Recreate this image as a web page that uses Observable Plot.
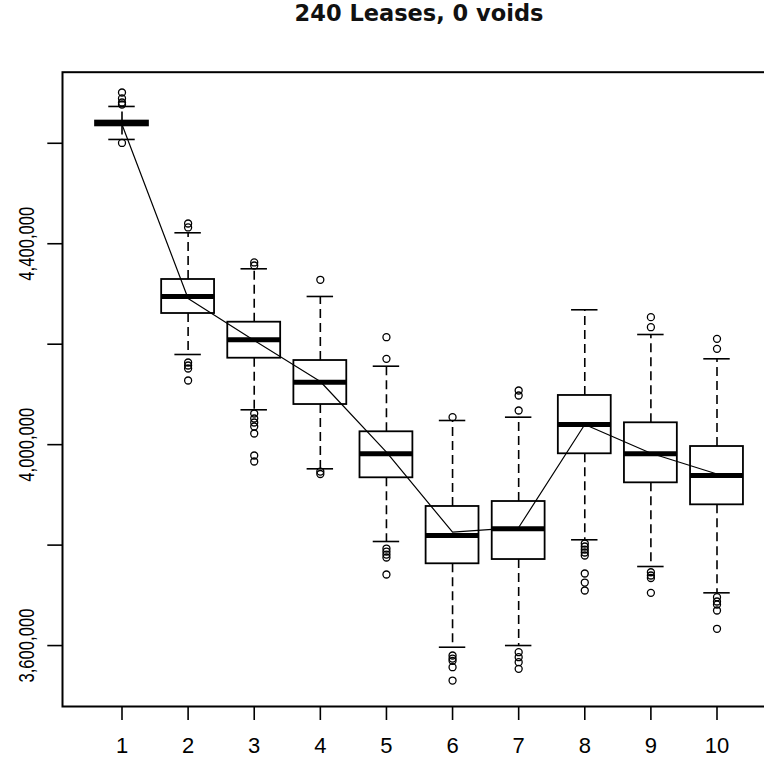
<!DOCTYPE html>
<html>
<head>
<meta charset="utf-8">
<script src="https://cdn.jsdelivr.net/npm/d3@7"></script>
<script src="https://cdn.jsdelivr.net/npm/@observablehq/plot@0.6"></script>
<style>
html, body { margin: 0; padding: 0; background: #fff; overflow: hidden; width: 764px; height: 758px; }
#title { margin: 0 0 0 62px; width: 714px; height: 42px; line-height: 42px; text-align: center;
  font: bold 22.5px "DejaVu Sans", sans-serif; color: #111; white-space: nowrap; }
#chart svg { display: block; }
</style>
</head>
<body>
<div id="title">240 Leases, 0 voids</div>
<div id="chart"></div>
<script>
// ---- data ----
const groups = [1, 2, 3, 4, 5, 6, 7, 8, 9, 10];
const whiskerLow  = [4607600, 4179500, 4069400, 3951900, 3807200, 3596700, 3600100, 3810600, 3757400, 3705000];
const q1          = [4634600, 4261100, 4172100, 4079900, 3934000, 3762800, 3771300, 3981800, 3924000, 3880200];
const medians     = [4639400, 4295000, 4208800, 4124300, 3981800, 3819100, 3832500, 4040100, 3981800, 3938600];
const q3          = [4644200, 4328800, 4243800, 4167500, 4025600, 3876900, 3886800, 4097900, 4043500, 3996300];
const whiskerHigh = [4673300, 4421800, 4350100, 4295000, 4156200, 4048100, 4054700, 4268500, 4219300, 4170900];
const means       = [4637400, 4291000, 4207400, 4125700, 3985000, 3825700, 3835000, 4040100, 3982800, 3941600];
const outliers = [
  [4701100, 4689200, 4681200, 4677200, 4600600],
  [4440300, 4432400, 4163600, 4157600, 4151600, 4127700],
  [4362700, 4356700, 4062000, 4052100, 4044100, 4036100, 4022200, 3978400, 3966500],
  [4328200, 3946500, 3941600],
  [4213900, 4170900, 3793200, 3787200, 3781200, 3775300, 3741500],
  [4054700, 3580200, 3574200, 3569600, 3556900, 3530400],
  [4107800, 4097900, 4068000, 3586800, 3576800, 3566900, 3553700],
  [3803200, 3797200, 3791200, 3785300, 3779300, 3743500, 3725500, 3709600],
  [4253800, 4233800, 3746000, 3739500, 3734500, 3705000],
  [4210700, 4190800, 3696300, 3687700, 3681700, 3669800, 3633400]
];
const yTicks = [3600000, 3800000, 4000000, 4200000, 4400000, 4600000];
const yLabelTicks = [3600000, 4000000, 4400000];
const yDomain = [3478700, 4741500];
const xDomain = [0.1, 10.9];

// ---- tables built from the arrays ----
const boxWidth = 0.8, stapleWidth = 0.4;
const boxes = groups.map((g, i) => ({
  g, lo: whiskerLow[i], q1: q1[i], med: medians[i], q3: q3[i], hi: whiskerHigh[i], mean: means[i]
}));
const outlierPoints = outliers.flatMap((arr, i) => arr.map(v => ({g: groups[i], v})));

const font = '"Liberation Sans Narrow", "Arial Narrow", "Liberation Sans", Arial, sans-serif';

const chart = Plot.plot({
  width: 764,
  height: 716,
  marginTop: 29.7,
  marginBottom: 52,
  marginLeft: 62,
  marginRight: -12,
  style: {fontFamily: font, fontSize: "22px", color: "#000", background: "#fff"},
  x: {type: "linear", domain: xDomain, label: null},
  y: {type: "linear", domain: yDomain, label: null},
  marks: [
    Plot.frame({stroke: "#000", strokeWidth: 2}),
    Plot.axisX({ticks: groups, label: null, tickSize: 14, tickPadding: 17, tickFormat: d => String(d),
      fontSize: 22, stroke: "#000", strokeWidth: 1.6, fill: "#000"}),
    Plot.axisY({ticks: yTicks, label: null, tickSize: 14.7, tickFormat: () => "", stroke: "#000", strokeWidth: 1.6}),
    Plot.text(yLabelTicks, {y: d => d, frameAnchor: "left", dx: -29, rotate: -90,
      text: d => d3.format(",")(d), textAnchor: "middle", lineAnchor: "bottom", fontSize: 22, fill: "#000"}),
    // whiskers
    Plot.ruleX(boxes, {x: "g", y1: "q3", y2: "hi", stroke: "#000", strokeWidth: 1.6, strokeDasharray: "9,5"}),
    Plot.ruleX(boxes, {x: "g", y1: "q1", y2: "lo", stroke: "#000", strokeWidth: 1.6, strokeDasharray: "9,5"}),
    // staples
    Plot.ruleY(boxes, {y: "hi", x1: d => d.g - stapleWidth / 2, x2: d => d.g + stapleWidth / 2, stroke: "#000", strokeWidth: 1.6}),
    Plot.ruleY(boxes, {y: "lo", x1: d => d.g - stapleWidth / 2, x2: d => d.g + stapleWidth / 2, stroke: "#000", strokeWidth: 1.6}),
    // boxes
    Plot.rect(boxes, {x1: d => d.g - boxWidth / 2, x2: d => d.g + boxWidth / 2, y1: "q1", y2: "q3",
      fill: "none", stroke: "#000", strokeWidth: 1.8}),
    // medians
    Plot.ruleY(boxes, {y: "med", x1: d => d.g - boxWidth / 2, x2: d => d.g + boxWidth / 2, stroke: "#000", strokeWidth: 5}),
    // outliers
    Plot.dot(outlierPoints, {x: "g", y: "v", r: 3.5, fill: "none", stroke: "#000", strokeWidth: 1.3}),
    // mean line
    Plot.line(boxes, {x: "g", y: "mean", stroke: "#000", strokeWidth: 1.2})
  ]
});
document.getElementById("chart").appendChild(chart);
// condensed y tick labels as in the reference
d3.select(chart).selectAll('g[aria-label="text"] text')
  .attr("textLength", 74).attr("lengthAdjust", "spacingAndGlyphs");
</script>
</body>
</html>
